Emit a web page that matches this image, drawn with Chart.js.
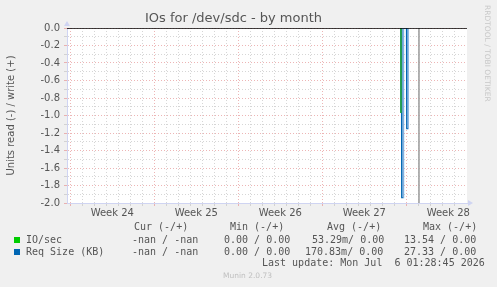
<!DOCTYPE html>
<html>
<head>
<meta charset="utf-8">
<script src="https://cdn.jsdelivr.net/npm/chart.js@4/dist/chart.umd.min.js"></script>
<style>
  html, body { margin: 0; padding: 0; background: #f0f0f0; }
  #wrap { position: relative; width: 497px; height: 287px; overflow: hidden; }
  #c { position: absolute; left: 0; top: 0; }
  .t { position: absolute; font-family: "DejaVu Sans Mono", monospace; font-size: 10px; line-height: 12px; color: #555; white-space: pre; }
  .sq { position: absolute; width: 6px; height: 6px; }
  #rrd { position: absolute; left: 483px; top: 5px; writing-mode: vertical-rl; font-family: "DejaVu Sans", sans-serif; font-size: 7.5px; color: #c8c8c8; white-space: pre; }
  #munin { position: absolute; left: 223px; top: 271px; font-family: "DejaVu Sans", sans-serif; font-size: 7.5px; color: #c0c0c0; white-space: pre; }
</style>
</head>
<body>
<div id="wrap">
  <canvas id="c" width="497" height="287"></canvas>
  <div id="rrd">RRDTOOL / TOBI OETIKER</div>
  <div class="t" style="left:134px;top:221px">Cur (-/+)</div>
  <div class="t" style="left:230px;top:221px">Min (-/+)</div>
  <div class="t" style="left:327px;top:221px">Avg (-/+)</div>
  <div class="t" style="left:423px;top:221px">Max (-/+)</div>
  <div class="sq" style="left:14px;top:237px;background:#00cc00"></div>
  <div class="t" style="left:26px;top:234px">IO/sec</div>
  <div class="t" style="left:132px;top:234px">-nan / -nan</div>
  <div class="t" style="left:224px;top:234px">0.00 / 0.00</div>
  <div class="t" style="left:312px;top:234px">53.29m/ 0.00</div>
  <div class="t" style="left:404px;top:234px">13.54 / 0.00</div>
  <div class="sq" style="left:14px;top:249px;background:#0066b3"></div>
  <div class="t" style="left:26px;top:246px">Req Size (KB)</div>
  <div class="t" style="left:132px;top:246px">-nan / -nan</div>
  <div class="t" style="left:224px;top:246px">0.00 / 0.00</div>
  <div class="t" style="left:305px;top:246px">170.83m/ 0.00</div>
  <div class="t" style="left:404px;top:246px">27.33 / 0.00</div>
  <div class="t" style="left:262px;top:257px">Last update: Mon Jul  6 01:28:45 2026</div>
  <div id="munin">Munin 2.0.73</div>
</div>
<script>
// ---- data (x in days from graph start) ----
const xMaxDays = 33.333;
const weekStarts = [0.275, 7.275, 14.275, 21.275, 28.275];
const weekLabels = ['Week 24', 'Week 25', 'Week 26', 'Week 27', 'Week 28'];

const ioTimes = [27.80, 27.83, 27.86];
const ioRead  = [0, -0.97, 0];

const reqTimes = [27.87, 27.89, 28.03, 28.05, 28.29, 28.31, 28.42, 28.44];
const reqRead  = [0, -1.94, -1.94, 0, 0, -1.15, -1.15, 0];

const zeroTimes = [0, 33.333];
const zeroVals  = [0, 0];

const markerTimes = [29.33, 29.33];
const markerVals  = [0, -2.0];

// ---- helpers ----
const pts = (xs, ys) => xs.map((x, i) => ({ x: x, y: ys[i] }));
const RED = 'rgba(230,150,150,0.7)';
const GREY = 'rgba(200,200,200,0.75)';
const AXIS = '#cfd4f2';

const dayTicks = [];
for (let d = weekStarts[0]; d < xMaxDays - 0.5; d += 1) dayTicks.push(Math.round(d * 1000) / 1000);
const labelTicks = weekStarts.map(s => Math.round((s + 3.5) * 1000) / 1000);
const isWeekLine = v => weekStarts.some(s => Math.abs(s - v) < 1e-3);
const labelFor = v => { const i = labelTicks.findIndex(t => Math.abs(t - v) < 1e-3); return i >= 0 ? weekLabels[i] : ''; };

const bgPlugin = {
  id: 'bg',
  beforeDraw(chart) {
    const a = chart.chartArea, ctx = chart.ctx;
    ctx.save(); ctx.fillStyle = '#ffffff';
    ctx.fillRect(a.left, a.top, a.right - a.left, a.bottom - a.top);
    ctx.restore();
  },
  afterDraw(chart) {
    const a = chart.chartArea, ctx = chart.ctx;
    ctx.save(); ctx.fillStyle = AXIS;
    ctx.beginPath(); ctx.moveTo(a.left - 3, a.top - 2); ctx.lineTo(a.left + 3, a.top - 2); ctx.lineTo(a.left, a.top - 7); ctx.closePath(); ctx.fill();
    ctx.beginPath(); ctx.moveTo(a.right + 1, a.bottom - 3); ctx.lineTo(a.right + 1, a.bottom + 3); ctx.lineTo(a.right + 6, a.bottom); ctx.closePath(); ctx.fill();
    ctx.restore();
  }
};

new Chart(document.getElementById('c'), {
  type: 'line',
  data: {
    datasets: [
      { label: 'zero', data: pts(zeroTimes, zeroVals), borderColor: '#000000', borderWidth: 1.6, pointRadius: 0, fill: false },
      { label: 'IO/sec', data: pts(ioTimes, ioRead), borderColor: '#22a050', borderWidth: 1, pointRadius: 0, fill: false },
      { label: 'Req Size (KB)', data: pts(reqTimes, reqRead), borderColor: '#0066b3', borderWidth: 1.2, pointRadius: 0,
        fill: 'origin', backgroundColor: 'rgba(120,170,220,0.75)',
        segment: { borderColor: c => (c.p1.parsed.y > c.p0.parsed.y ? 'rgba(120,170,220,0.9)' : '#0066b3') } },
      { label: 'marker', data: pts(markerTimes, markerVals), borderColor: '#a0a0a0', borderWidth: 1.6, pointRadius: 0, fill: false }
    ]
  },
  options: {
    responsive: false,
    animation: false,
    devicePixelRatio: 1,
    layout: { padding: { left: 0, right: 30, top: 0, bottom: 0 } },
    plugins: {
      legend: { display: false },
      tooltip: { enabled: false },
      title: {
        display: true, text: 'IOs for /dev/sdc - by month', color: '#555',
        font: { family: 'DejaVu Sans', size: 13, weight: 'normal' },
        padding: { top: 11, bottom: 1.4 }
      }
    },
    scales: {
      x: {
        type: 'linear', min: 0, max: xMaxDays,
        afterBuildTicks: s => { s.ticks = dayTicks.concat(labelTicks).sort((a, b) => a - b).map(v => ({ value: v })); },
        afterFit: s => { s.height = 84; },
        ticks: { autoSkip: false, maxRotation: 0, minRotation: 0, padding: 1, color: '#555',
          font: { family: 'DejaVu Sans', size: 10 }, callback: v => labelFor(v) },
        grid: {
          color: c => { const v = c.tick ? c.tick.value : 0; if (labelFor(v)) return 'rgba(0,0,0,0)'; return isWeekLine(v) ? RED : GREY; },
          tickLength: 3, lineWidth: 1
        },
        border: { color: AXIS, width: 1, dash: [1, 2] }
      },
      y: {
        type: 'linear', min: -2, max: 0,
        afterBuildTicks: s => { const t = []; for (let i = -20; i <= 0; i++) t.push({ value: i / 10 }); s.ticks = t; },
        afterFit: s => { s.width = 67; },
        ticks: { autoSkip: false, padding: 4, color: '#555', font: { family: 'DejaVu Sans', size: 10 },
          callback: v => { const k = Math.round(v * 10); return (k % 2 === 0) ? (k / 10).toFixed(1) : ''; } },
        grid: {
          color: c => { const v = c.tick ? Math.round(c.tick.value * 10) : 0; return (v % 2 === 0) ? RED : GREY; },
          tickLength: 3, lineWidth: 1
        },
        border: { color: AXIS, width: 1, dash: [1, 2] },
        title: { display: true, text: 'Units read (-) / write (+)', color: '#555',
          font: { family: 'DejaVu Sans', size: 10 }, padding: { top: 5, bottom: 0 } }
      }
    }
  },
  plugins: [bgPlugin]
});
</script>
</body>
</html>
